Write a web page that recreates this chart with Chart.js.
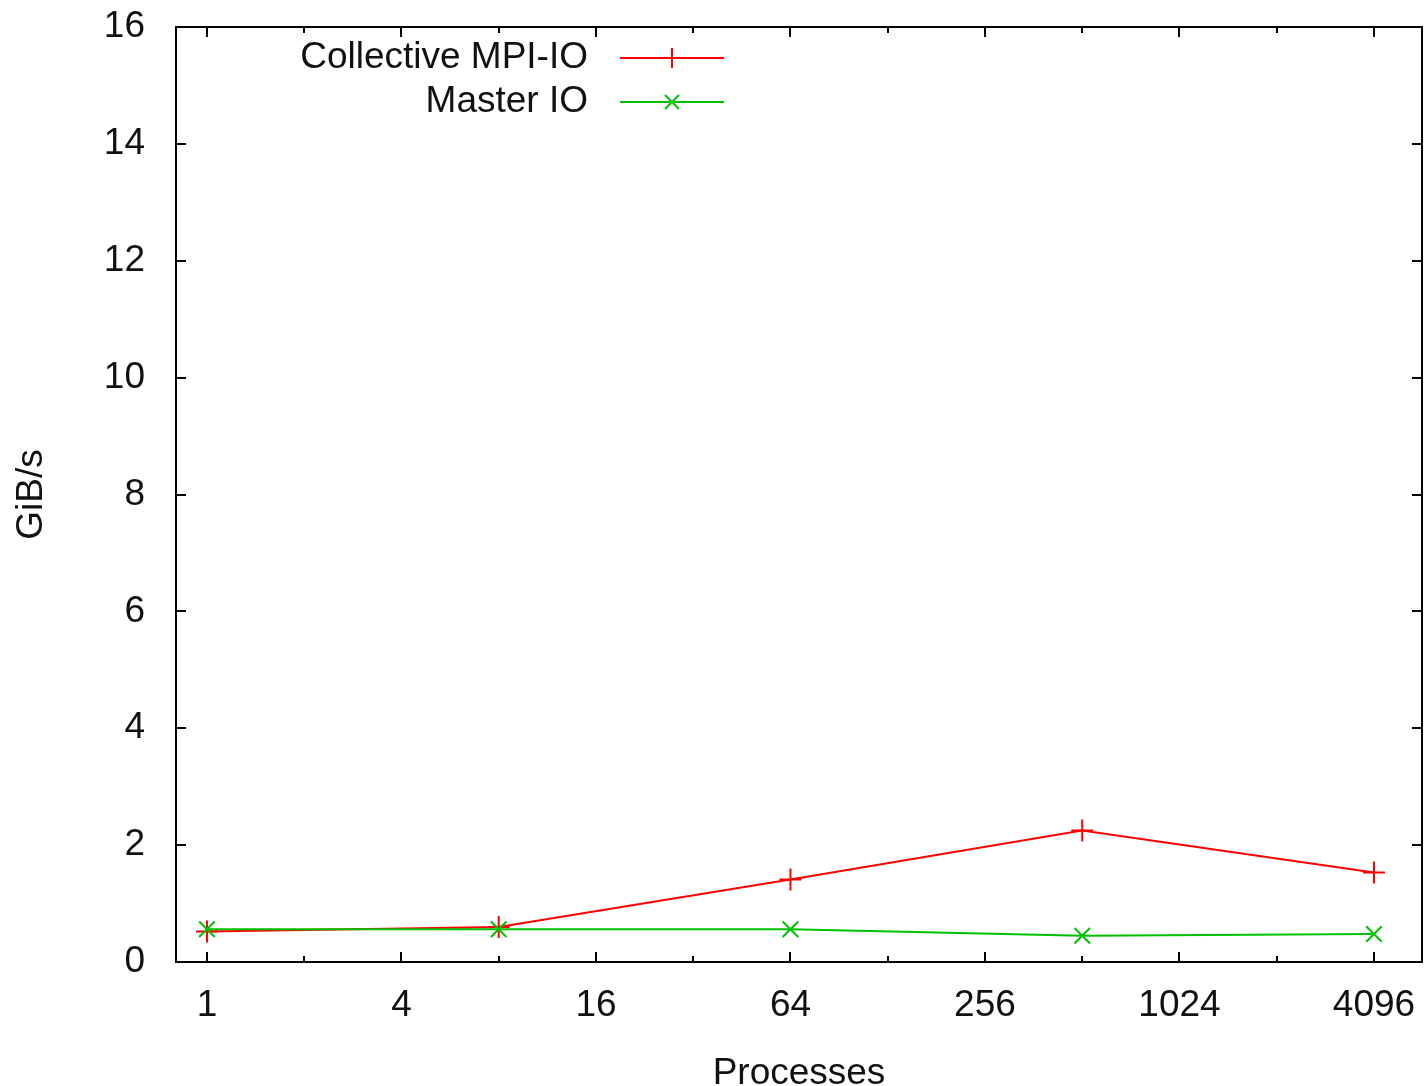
<!DOCTYPE html>
<html>
<head>
<meta charset="utf-8">
<script src="https://cdn.jsdelivr.net/npm/chart.js@4.4.1/dist/chart.umd.min.js"></script>
<style>
  body { margin: 0; background: #fff; }
  #wrap { width: 1424px; height: 1086px; }
</style>
</head>
<body>
<div id="wrap"><canvas id="ioChart" width="1424" height="1086"></canvas></div>
<script>
// Values
var processes = [1, 8, 64, 512, 4096];
var collectiveMpiIo = [0.52, 0.60, 1.41, 2.25, 1.53];
var masterIo = [0.56, 0.56, 0.56, 0.45, 0.48];
var xTickValues = [1, 2, 4, 8, 16, 32, 64, 128, 256, 512, 1024, 2048, 4096];
var xTickLabels = ["1", "", "4", "", "16", "", "64", "", "256", "", "1024", "", "4096"];
var yTickValues = [0, 2, 4, 6, 8, 10, 12, 14, 16];
var seriesNames = ["Collective MPI-IO", "Master IO"];

var FONT = "'Liberation Sans', Arial, sans-serif";
var RED = "#ff0000";
var GREEN = "#00c000";

function toPoints(ys) {
  return processes.map(function (p, i) { return { x: p, y: ys[i] }; });
}

// gnuplot style frame with inward ticks on all four sides
var framePlugin = {
  id: "frame",
  beforeDatasetsDraw: function (chart) {
    var ctx = chart.ctx, a = chart.chartArea;
    var xs = chart.scales.x, ys = chart.scales.y;
    ctx.save();
    ctx.strokeStyle = "#000";
    ctx.lineWidth = 2;
    ctx.strokeRect(a.left, a.top, a.right - a.left, a.bottom - a.top);
    ctx.beginPath();
    xTickValues.forEach(function (v, i) {
      var px = Math.round(xs.getPixelForValue(v));
      var len = xTickLabels[i] ? 10 : 6;
      ctx.moveTo(px, a.bottom); ctx.lineTo(px, a.bottom - len);
      ctx.moveTo(px, a.top); ctx.lineTo(px, a.top + len);
    });
    yTickValues.forEach(function (v) {
      var py = Math.round(ys.getPixelForValue(v));
      ctx.moveTo(a.left, py); ctx.lineTo(a.left + 10, py);
      ctx.moveTo(a.right, py); ctx.lineTo(a.right - 10, py);
    });
    ctx.stroke();
    ctx.restore();
  }
};

// legend: right aligned text with a sample line and marker to its right
var keyPlugin = {
  id: "key",
  afterDraw: function (chart) {
    var ctx = chart.ctx;
    var rows = [58, 102];
    ctx.save();
    ctx.font = "37px " + FONT;
    ctx.textAlign = "right";
    ctx.textBaseline = "middle";
    chart.data.datasets.forEach(function (ds, i) {
      var y = rows[i];
      ctx.fillStyle = "#111";
      ctx.fillText(seriesNames[i], 588, y);
      ctx.strokeStyle = ds.borderColor;
      ctx.lineWidth = 2;
      ctx.beginPath();
      ctx.moveTo(620, y); ctx.lineTo(724, y);
      var r = 10;
      if (i === 0) {
        ctx.moveTo(672, y - r); ctx.lineTo(672, y + r);
      } else {
        var d = r * 0.7;
        ctx.moveTo(672 - d, y - d); ctx.lineTo(672 + d, y + d);
        ctx.moveTo(672 - d, y + d); ctx.lineTo(672 + d, y - d);
      }
      ctx.stroke();
    });
    ctx.restore();
  }
};

var ctx = document.getElementById("ioChart").getContext("2d");
var ioChart = new Chart(ctx, {
  type: "line",
  data: {
    datasets: [
      {
        label: seriesNames[0],
        data: toPoints(collectiveMpiIo),
        borderColor: RED,
        backgroundColor: RED,
        borderWidth: 2,
        pointStyle: "cross",
        pointRadius: 11,
        pointBorderWidth: 2,
        tension: 0,
        fill: false,
        order: 1
      },
      {
        label: seriesNames[1],
        data: toPoints(masterIo),
        borderColor: GREEN,
        backgroundColor: GREEN,
        borderWidth: 2,
        pointStyle: "crossRot",
        pointRadius: 11,
        pointBorderWidth: 2,
        tension: 0,
        fill: false,
        order: 0
      }
    ]
  },
  options: {
    responsive: false,
    animation: false,
    layout: { autoPadding: false, padding: { top: 27, right: 2, bottom: 0, left: 0 } },
    plugins: {
      legend: { display: false },
      tooltip: { enabled: false }
    },
    scales: {
      x: {
        type: "logarithmic",
        min: 0.802,
        max: 5767,
        grid: { display: false, drawTicks: false },
        border: { display: false },
        afterBuildTicks: function (scale) {
          scale.ticks = xTickValues.map(function (v) { return { value: v }; });
        },
        afterFit: function (scale) {
          scale.height = 124;
          scale.paddingLeft = 0;
          scale.paddingRight = 0;
        },
        ticks: {
          autoSkip: false,
          maxRotation: 0,
          padding: 22,
          color: "#111",
          font: { family: FONT, size: 37 },
          callback: function (value, index) { return xTickLabels[index]; }
        },
        title: {
          display: true,
          text: "Processes",
          color: "#111",
          font: { family: FONT, size: 37, lineHeight: 0.6 },
          padding: { top: 0, bottom: 1 }
        }
      },
      y: {
        min: 0,
        max: 16,
        grid: { display: false, drawTicks: false },
        border: { display: false },
        afterBuildTicks: function (scale) {
          scale.ticks = yTickValues.map(function (v) { return { value: v }; });
        },
        afterFit: function (scale) {
          scale.width = 176;
          scale.paddingTop = 0;
          scale.paddingBottom = 0;
        },
        ticks: {
          padding: 31,
          color: "#111",
          font: { family: FONT, size: 37 }
        },
        title: {
          display: true,
          text: "GiB/s",
          color: "#111",
          font: { family: FONT, size: 37, lineHeight: 1 },
          padding: { top: 13, bottom: 0 }
        }
      }
    }
  },
  plugins: [framePlugin, keyPlugin]
});
</script>
</body>
</html>
